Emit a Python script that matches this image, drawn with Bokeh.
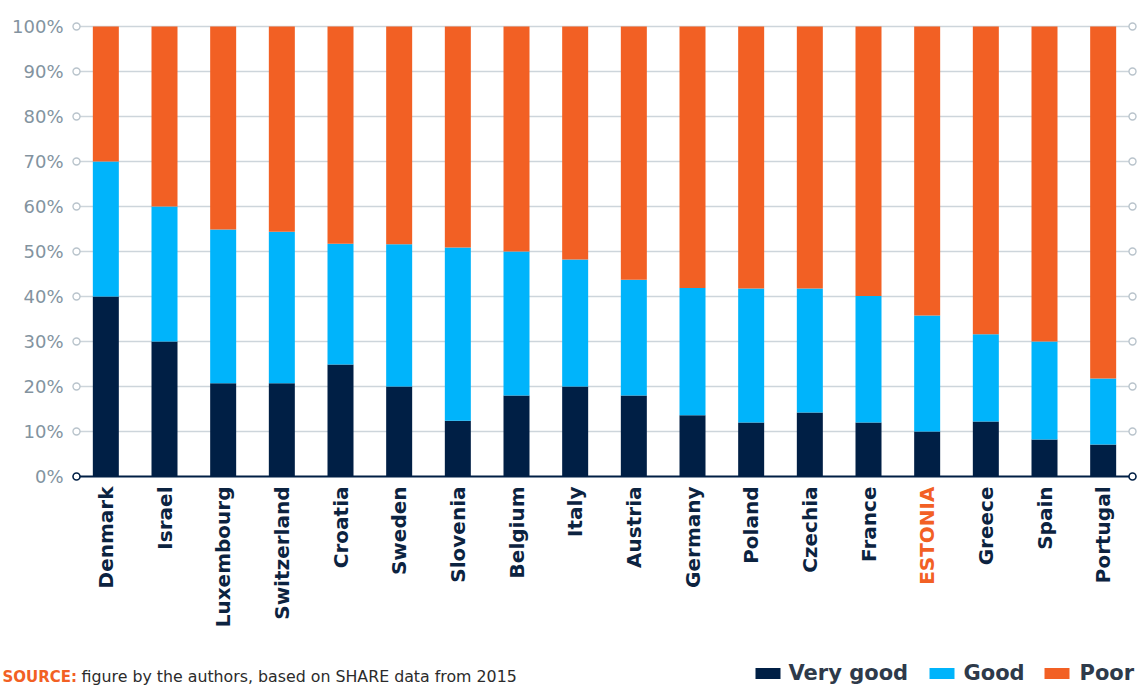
from bokeh.plotting import figure
from bokeh.models import Range1d, ColumnDataSource
from bokeh.core.properties import value
from bokeh.embed import file_html
from bokeh.resources import INLINE
import math

# ---------------- data ----------------
countries = ["Denmark", "Israel", "Luxembourg", "Switzerland", "Croatia", "Sweden",
             "Slovenia", "Belgium", "Italy", "Austria", "Germany", "Poland",
             "Czechia", "France", "ESTONIA", "Greece", "Spain", "Portugal"]
very_good = [40, 30, 20.7, 20.7, 24.9, 20, 12.4, 18, 20, 18, 13.6, 12, 14.2, 12, 10, 12.2, 8.2, 7.1]
good = [30, 30, 34.2, 33.7, 26.8, 31.6, 38.5, 32, 28.2, 25.7, 28.3, 29.8, 27.6, 28.1, 25.8, 19.4, 21.8, 14.7]
poor = [round(100 - a - b, 1) for a, b in zip(very_good, good)]
highlight = "ESTONIA"
y_ticks = [0, 10, 20, 30, 40, 50, 60, 70, 80, 90, 100]
series_names = ["Very good", "Good", "Poor"]

# ---------------- styles ----------------
NAVY = "#001f45"
BLUE = "#00b4fb"
ORANGE = "#f26024"
GRID = "#cdd5db"
CIRCLE = "#b9c4cc"
TICK_TXT = "#83939f"
LABEL_TXT = "#0c2340"
LEG_TXT = "#2e3a4a"
SRC_TXT = "#2b2b2b"
FONT = "DejaVu Sans"

# ---------------- layout (page pixels) ----------------
W, H = 1138, 689
n = len(countries)
X0_PX, XN_PX = 76, 1132          # pixel of x=0 and x=n
Y0_PX, Y100_PX = 476, 26         # pixel of 0% and 100%
px_per_x = (XN_PX - X0_PX) / n
px_per_y = (Y0_PX - Y100_PX) / 100.0

def X(px):   # page pixel -> data x
    return (px - X0_PX) / px_per_x

def Y(py):   # page pixel (from top) -> data y
    return (Y0_PX - py) / px_per_y

p = figure(width=W, height=H, output_backend="svg", toolbar_location=None,
           x_range=Range1d(X(0), X(W)), y_range=Range1d(Y(H), Y(0)),
           x_axis_location=None, y_axis_location=None,
           min_border=0, min_border_left=0, min_border_right=0,
           min_border_top=0, min_border_bottom=0)
p.outline_line_color = None
p.xgrid.visible = False
p.ygrid.visible = False
p.background_fill_color = "white"
p.border_fill_color = "white"

# grid lines at each tick above 0
gt = [t for t in y_ticks if t > 0]
p.segment(x0=[0] * len(gt), x1=[n] * len(gt), y0=gt, y1=gt, line_color=GRID, line_width=1.5)

# stacked bars
src = ColumnDataSource(dict(x=[i + 0.5 for i in range(n)], vg=very_good, g=good, pr=poor))
p.vbar_stack(["vg", "g", "pr"], x="x", width=26 / px_per_x, source=src,
             color=[NAVY, BLUE, ORANGE], line_color=None)

# baseline
p.segment(x0=[0], x1=[n], y0=[0], y1=[0], line_color=NAVY, line_width=2)

# tick circles on both ends
p.scatter(x=[0] * len(gt) + [n] * len(gt), y=gt + gt, size=7, marker="circle",
          fill_color="white", line_color=CIRCLE, line_width=1.4)
p.scatter(x=[0, n], y=[0, 0], size=7, marker="circle",
          fill_color="white", line_color=NAVY, line_width=1.6)

# y tick labels
p.text(x=[X(63)] * len(y_ticks), y=y_ticks, text=[f"{t}%" for t in y_ticks],
       text_align="right", text_baseline="middle", text_font=value(FONT),
       text_font_size=value("18px"), text_color=TICK_TXT)

# category labels
lab = ColumnDataSource(dict(x=[i + 0.5 for i in range(n)], y=[Y(Y0_PX + 10)] * n,
                            t=countries,
                            c=[ORANGE if c == highlight else LABEL_TXT for c in countries]))
p.text(x="x", y="y", text="t", text_color="c", source=lab, angle=math.pi / 2,
       text_align="right", text_baseline="middle", text_font=value(FONT),
       text_font_style="bold", text_font_size=value("20px"))

# source note
p.text(x=[X(2)], y=[Y(676)], text=["SOURCE:"], text_align="left", text_baseline="middle",
       text_font=value(FONT), text_font_style="bold", text_font_size=value("15px"),
       text_color=ORANGE)
p.text(x=[X(81)], y=[Y(676)], text=["figure by the authors, based on SHARE data from 2015"],
       text_align="left", text_baseline="middle", text_font=value(FONT),
       text_font_size=value("15.8px"), text_color=SRC_TXT)

# legend (manual)
leg_sq_x = [755, 929, 1044]
leg_tx_x = [788, 963, 1079]
leg_cols = [NAVY, BLUE, ORANGE]
p.rect(x=[X(v + 12.5) for v in leg_sq_x], y=[Y(673)] * 3, width=25, height=11,
       width_units="screen", height_units="screen", fill_color=leg_cols, line_color=None)
p.text(x=[X(v) for v in leg_tx_x], y=[Y(672)] * 3, text=series_names,
       text_align="left", text_baseline="middle", text_font=value(FONT),
       text_font_style="bold", text_font_size=value("21px"), text_color=LEG_TXT)

open("out.html", "w").write(file_html(p, INLINE))
